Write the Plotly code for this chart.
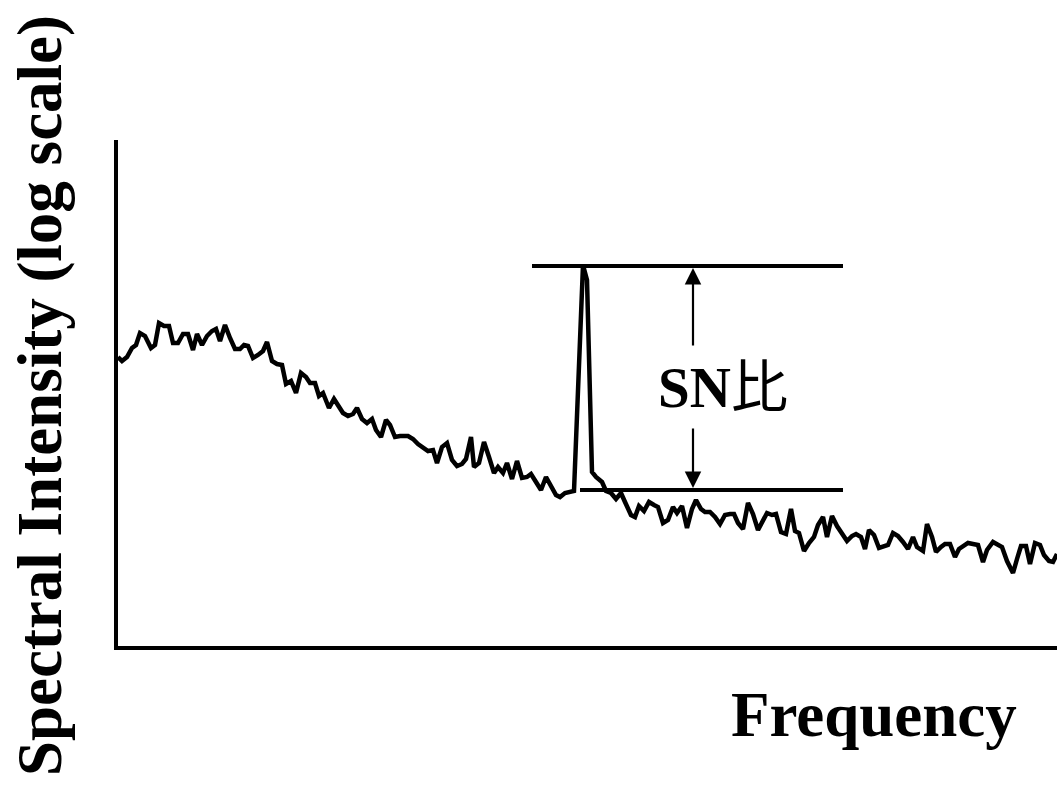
import plotly.graph_objects as go

# Frequency (arbitrary units) and spectral intensity (log units, arbitrary)
freq = [0, 4, 9, 14, 18, 22, 27, 33, 37, 41, 46, 51, 55, 60, 65, 70, 75, 79, 84, 89,
        94, 98, 102, 107, 112, 117, 122, 126, 130, 135, 140, 145, 149, 154, 159, 164,
        168, 173, 178, 183, 188, 192, 197, 201, 205, 211, 216, 220, 225, 230, 235, 239,
        244, 249, 254, 258, 263, 268, 272, 277, 282, 290, 295, 300, 306, 310, 315, 319, 324,
        329, 334, 339, 344, 348, 353, 356, 361, 366, 371, 376, 380, 385, 389, 394, 399,
        404, 409, 413, 418, 423, 428, 433, 438, 442, 447, 456, 465, 469, 474, 478, 484,
        488, 493, 498, 503, 507, 513, 517, 521, 526, 531, 536, 540, 545, 550, 555, 559,
        564, 569, 574, 578, 583, 587, 592, 597, 602, 607, 612, 616, 620, 625, 630, 635, 640,
        645, 649, 654, 658, 663, 668, 673, 677, 681, 686, 691, 696, 700, 705, 709, 714,
        719, 724, 729, 734, 738, 743, 747, 751, 756, 761, 766, 770, 775, 780, 785, 790,
        795, 799, 805, 809, 814, 818, 823, 827, 832, 837, 841, 846, 850, 855, 860, 865,
        869, 875, 879, 884, 889, 895, 899, 903, 908, 912, 917, 922, 926, 931, 935, 939]

intensity = [291, 287, 291, 300, 303, 315, 312, 300, 303, 325, 322, 322, 305, 305, 314, 314, 298, 314, 303, 312,
             317, 319, 307, 323, 310, 299, 299, 303, 302, 290, 293, 297, 306, 287, 284, 283,
             264, 267, 255, 275, 271, 265, 265, 252, 255, 240, 249, 243, 235, 232, 234, 240,
             229, 225, 229, 218, 211, 228, 223, 211, 212, 212, 209, 204, 199, 197, 198, 185, 201,
             205, 188, 182, 184, 189, 211, 181, 185, 206, 191, 175, 181, 175, 185, 169, 187,
             170, 171, 174, 166, 158, 171, 161, 153, 151, 155, 157, 383, 368, 176, 171, 166,
             157, 155, 149, 155, 146, 133, 131, 142, 137, 146, 143, 141, 125, 128, 141, 135,
             142, 120, 139, 148, 139, 136, 136, 131, 124, 133, 134, 134, 125, 119, 145, 134, 118,
             127, 135, 133, 134, 116, 114, 139, 117, 115, 97, 105, 111, 123, 131, 111, 132,
             122, 114, 107, 112, 114, 111, 99, 118, 113, 100, 102, 103, 115, 112, 106, 99,
             111, 101, 97, 124, 111, 96, 101, 104, 104, 91, 99, 103, 105, 104, 103, 86,
             98, 106, 104, 101, 87, 75, 89, 102, 102, 84, 105, 103, 93, 87, 86, 94]

signal_level = 382
noise_level = 158
sn_label = "<b>SN</b>比"
x_title = "Frequency"
y_title = "Spectral Intensity (log scale)"

assert len(freq) == len(intensity)

serif = "Liberation Serif, Times New Roman, serif"

fig = go.Figure()
fig.add_trace(go.Scatter(x=freq, y=intensity, mode="lines",
                         line=dict(color="black", width=4.5), hoverinfo="skip",
                         showlegend=False))

axis_common = dict(showgrid=False, zeroline=False, showticklabels=False, ticks="",
                   showline=True, linecolor="black", linewidth=4, fixedrange=True)

fig.update_layout(
    width=1057, height=785,
    margin=dict(l=118, r=0, t=140, b=139),
    paper_bgcolor="white", plot_bgcolor="white",
    xaxis=dict(range=[0, 939], **axis_common),
    yaxis=dict(range=[2, 508], **axis_common),
    shapes=[
        dict(type="line", xref="x", yref="y", x0=414, x1=725, y0=signal_level, y1=signal_level,
             line=dict(color="black", width=4)),
        dict(type="line", xref="x", yref="y", x0=462, x1=725, y0=noise_level, y1=noise_level,
             line=dict(color="black", width=4)),
    ],
    annotations=[
        dict(x=575, y=signal_level - 2, ax=575, ay=301, xref="x", yref="y", axref="x", ayref="y",
             text="", showarrow=True, arrowhead=2, arrowsize=1.5, arrowwidth=2.2, arrowcolor="black"),
        dict(x=575, y=noise_level + 2, ax=575, ay=221, xref="x", yref="y", axref="x", ayref="y",
             text="", showarrow=True, arrowhead=2, arrowsize=1.5, arrowwidth=2.2, arrowcolor="black"),
        dict(x=605, y=261, xref="x", yref="y", text=sn_label, showarrow=False,
             font=dict(family=serif + ", Noto Sans CJK JP", size=57, color="black"),
             xanchor="center", yanchor="middle"),
        dict(x=0.805, y=-0.136, xref="paper", yref="paper", text=x_title, showarrow=False,
             font=dict(family=serif, size=63, color="black", weight="bold"),
             xanchor="center", yanchor="middle"),
        dict(x=-0.083, y=0.494, xref="paper", yref="paper", text=y_title, showarrow=False,
             textangle=-90,
             font=dict(family=serif, size=63, color="black", weight="bold"),
             xanchor="center", yanchor="middle"),
    ],
)

fig.write_html("out.html", config={"displayModeBar": False})
